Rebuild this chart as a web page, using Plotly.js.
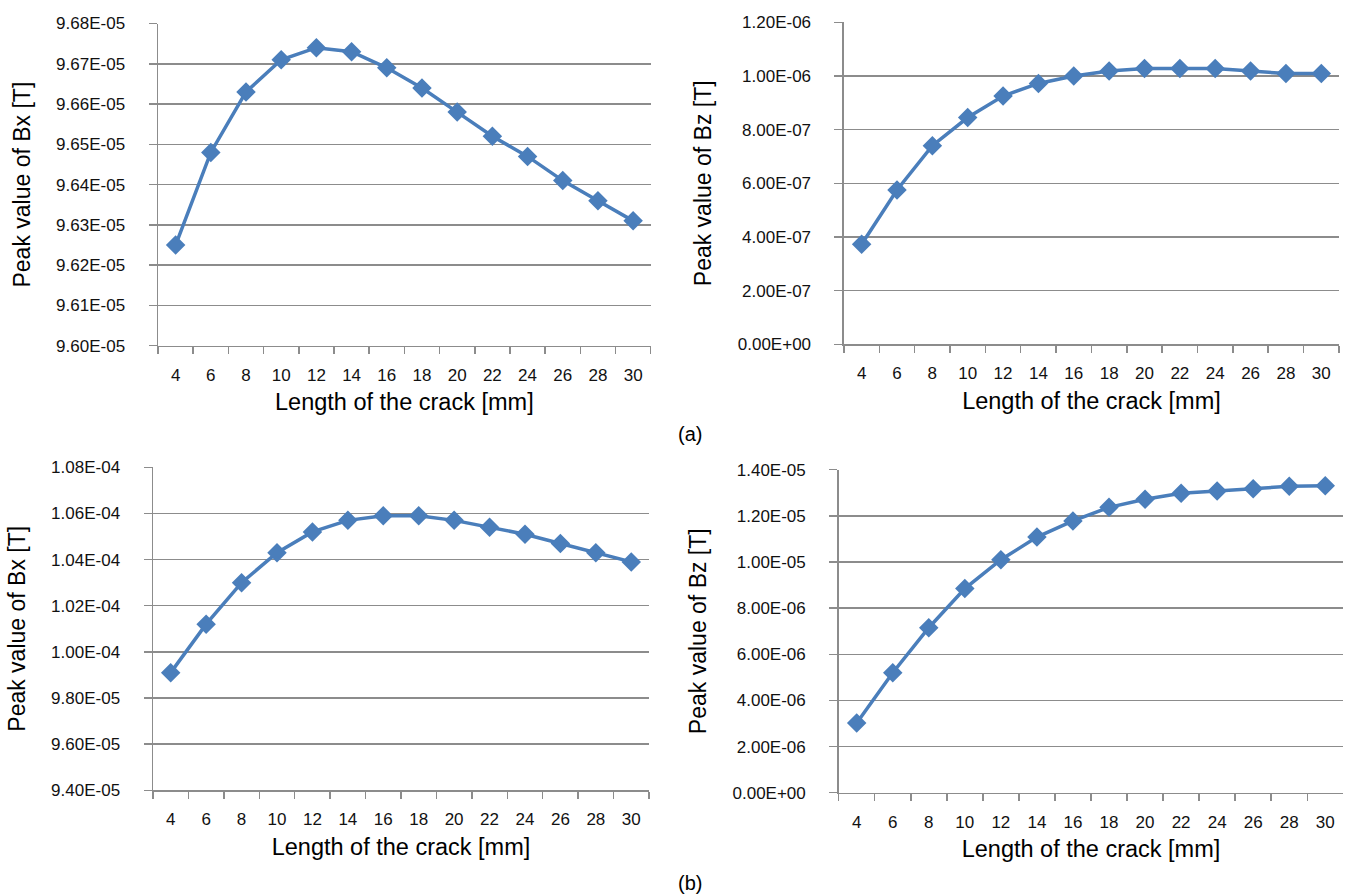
<!DOCTYPE html>
<html>
<head>
<meta charset="utf-8">
<script src="https://cdn.plot.ly/plotly-3.0.1.min.js"></script>
<style>html,body{margin:0;padding:0;background:#fff;}#chart{width:1354px;height:894px;}</style>
</head>
<body>
<div id="chart"></div>
<script>
const categories = ['4','6','8','10','12','14','16','18','20','22','24','26','28','30'];

const bxA = [9.625e-5, 9.648e-5, 9.663e-5, 9.671e-5, 9.674e-5, 9.673e-5, 9.669e-5, 9.664e-5, 9.658e-5, 9.652e-5, 9.647e-5, 9.641e-5, 9.636e-5, 9.631e-5];
const bzA = [3.73e-7, 5.75e-7, 7.40e-7, 8.45e-7, 9.25e-7, 9.72e-7, 1.000e-6, 1.018e-6, 1.028e-6, 1.028e-6, 1.028e-6, 1.018e-6, 1.009e-6, 1.009e-6];
const bxB = [9.91e-5, 1.012e-4, 1.030e-4, 1.043e-4, 1.052e-4, 1.057e-4, 1.059e-4, 1.059e-4, 1.057e-4, 1.054e-4, 1.051e-4, 1.047e-4, 1.043e-4, 1.039e-4];
const bzB = [3.02e-6, 5.20e-6, 7.15e-6, 8.85e-6, 1.010e-5, 1.108e-5, 1.178e-5, 1.237e-5, 1.272e-5, 1.298e-5, 1.308e-5, 1.318e-5, 1.328e-5, 1.330e-5];

const tickValsBxA = [9.60e-5, 9.61e-5, 9.62e-5, 9.63e-5, 9.64e-5, 9.65e-5, 9.66e-5, 9.67e-5, 9.68e-5];
const tickTextBxA = ['9.60E-05','9.61E-05','9.62E-05','9.63E-05','9.64E-05','9.65E-05','9.66E-05','9.67E-05','9.68E-05'];
const tickValsBzA = [0, 2e-7, 4e-7, 6e-7, 8e-7, 1.0e-6, 1.2e-6];
const tickTextBzA = ['0.00E+00','2.00E-07','4.00E-07','6.00E-07','8.00E-07','1.00E-06','1.20E-06'];
const tickValsBxB = [9.4e-5, 9.6e-5, 9.8e-5, 1.00e-4, 1.02e-4, 1.04e-4, 1.06e-4, 1.08e-4];
const tickTextBxB = ['9.40E-05','9.60E-05','9.80E-05','1.00E-04','1.02E-04','1.04E-04','1.06E-04','1.08E-04'];
const tickValsBzB = [0, 2e-6, 4e-6, 6e-6, 8e-6, 1.0e-5, 1.2e-5, 1.4e-5];
const tickTextBzB = ['0.00E+00','2.00E-06','4.00E-06','6.00E-06','8.00E-06','1.00E-05','1.20E-05','1.40E-05'];

const xTitle = 'Length of the crack [mm]';
const yTitleBx = 'Peak value of Bx [T]';
const yTitleBz = 'Peak value of Bz [T]';

const lineColor = '#4A7EBB';
const gridColor = '#8C8C8C';
const fontFam = 'Liberation Sans, Arial, sans-serif';

function trace(y, xa, ya) {
  return {
    x: categories, y: y, xaxis: xa, yaxis: ya, type: 'scatter', mode: 'lines+markers',
    line: {color: lineColor, width: 3.5},
    marker: {symbol: 'diamond', size: 15, color: lineColor},
    showlegend: false, hoverinfo: 'none', cliponaxis: false
  };
}

function xaxis(domain, anchor) {
  return {
    domain: domain, anchor: anchor, type: 'category',
    range: [-0.5, categories.length - 0.5],
    showgrid: false, zeroline: false,
    showline: true, linecolor: gridColor, linewidth: 1.5,
    ticks: 'outside', tickson: 'boundaries', ticklen: 7, tickcolor: gridColor, tickwidth: 1.5,
    ticklabelstandoff: 13,
    tickfont: {family: fontFam, size: 17, color: '#111'},
    title: {text: xTitle, font: {family: fontFam, size: 23.5, color: '#000'}, standoff: 10},
    fixedrange: true
  };
}

function yaxis(domain, anchor, range, vals, text, title) {
  return {
    domain: domain, anchor: anchor, range: range,
    tickmode: 'array', tickvals: vals, ticktext: text,
    showgrid: true, gridcolor: gridColor, gridwidth: 1.5,
    zeroline: false,
    showline: true, linecolor: gridColor, linewidth: 1.5,
    ticks: 'outside', ticklen: 8, tickcolor: gridColor, tickwidth: 1.5,
    ticklabelstandoff: 20,
    tickfont: {family: fontFam, size: 17, color: '#111'},
    title: {text: title, font: {family: fontFam, size: 23, color: '#000'}, standoff: 19},
    fixedrange: true
  };
}

const data = [
  trace(bxA, 'x', 'y'),
  trace(bzA, 'x2', 'y2'),
  trace(bxB, 'x3', 'y3'),
  trace(bzB, 'x4', 'y4')
];

const layout = {
  width: 1354, height: 894,
  margin: {l: 0, r: 0, t: 0, b: 0},
  paper_bgcolor: '#fff', plot_bgcolor: '#fff',
  font: {family: fontFam},
  xaxis: xaxis([0.1167, 0.4806], 'y'),
  xaxis2: xaxis([0.6233, 0.9889], 'y2'),
  xaxis3: xaxis([0.1130, 0.4793], 'y3'),
  xaxis4: xaxis([0.6194, 0.9921], 'y4'),
  yaxis: yaxis([0.6133, 0.9737], 'x', [9.60e-5, 9.68e-5], tickValsBxA, tickTextBxA, yTitleBx),
  yaxis2: yaxis([0.6149, 0.9751], 'x2', [0, 1.2e-6], tickValsBzA, tickTextBzA, yTitleBz),
  yaxis3: yaxis([0.1160, 0.4773], 'x3', [9.4e-5, 1.08e-4], tickValsBxB, tickTextBxB, yTitleBx),
  yaxis4: yaxis([0.1133, 0.4746], 'x4', [0, 1.4e-5], tickValsBzB, tickTextBzB, yTitleBz),
  annotations: [
    {text: '(a)', xref: 'paper', yref: 'paper', x: 690/1354, y: 1 - 434/894, xanchor: 'center', yanchor: 'middle', showarrow: false, font: {family: fontFam, size: 20, color: '#000'}},
    {text: '(b)', xref: 'paper', yref: 'paper', x: 690/1354, y: 1 - 883/894, xanchor: 'center', yanchor: 'middle', showarrow: false, font: {family: fontFam, size: 20, color: '#000'}}
  ]
};

Plotly.newPlot('chart', data, layout, {staticPlot: true, displayModeBar: false});
</script>
</body>
</html>
